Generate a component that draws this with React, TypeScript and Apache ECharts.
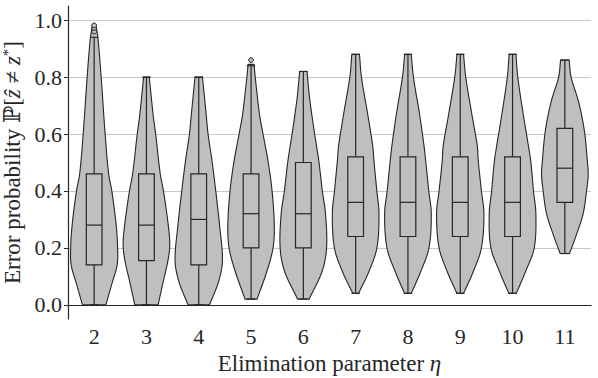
import React, { useEffect, useRef } from "react";
import * as echarts from "echarts";

// ---- data ----
const etaLabels = ["2", "3", "4", "5", "6", "7", "8", "9", "10", "11"];
const yTickValues = [0, 0.2, 0.4, 0.6, 0.8, 1.0];

// [lower whisker, Q1, median, Q3, upper whisker]
const boxStats = [
  [0.0, 0.14, 0.28, 0.46, 0.94],
  [0.0, 0.155, 0.28, 0.46, 0.8],
  [0.0, 0.14, 0.3, 0.46, 0.8],
  [0.02, 0.2, 0.32, 0.46, 0.84],
  [0.02, 0.2, 0.32, 0.5, 0.82],
  [0.04, 0.24, 0.36, 0.52, 0.88],
  [0.04, 0.24, 0.36, 0.52, 0.88],
  [0.04, 0.24, 0.36, 0.52, 0.88],
  [0.04, 0.24, 0.36, 0.52, 0.88],
  [0.18, 0.36, 0.48, 0.62, 0.86],
];

const outliers = [
  [0.96, 0.973, 0.982],
  [],
  [],
  [0.86],
  [],
  [],
  [],
  [],
  [],
  [],
];

// violin outlines: [value, half-width as a fraction of the category band]
const violin2 = [[0, 0.224], [0.077, 0.344], [0.14, 0.44], [0.2, 0.449], [0.28, 0.421], [0.4, 0.338], [0.46, 0.277], [0.6, 0.21], [0.8, 0.134], [0.94, 0.071], [0.985, 0.03]];
const violin3 = [[0, 0.224], [0.08, 0.319], [0.155, 0.411], [0.21, 0.446], [0.28, 0.417], [0.4, 0.325], [0.46, 0.264], [0.6, 0.176], [0.667, 0.128], [0.8, 0.054]];
const violin4 = [[0, 0.205], [0.08, 0.377], [0.155, 0.453], [0.28, 0.398], [0.4, 0.325], [0.505, 0.254], [0.6, 0.178], [0.667, 0.143], [0.8, 0.071]];
const violin5 = [[0.02, 0.115], [0.117, 0.302], [0.2, 0.421], [0.28, 0.444], [0.4, 0.402], [0.505, 0.325], [0.6, 0.229], [0.667, 0.163], [0.8, 0.08], [0.845, 0.057]];
const violin6 = [[0.02, 0.111], [0.117, 0.358], [0.2, 0.444], [0.32, 0.424], [0.4, 0.363], [0.505, 0.296], [0.6, 0.216], [0.725, 0.12], [0.82, 0.071]];
const violin7 = [[0.04, 0.054], [0.117, 0.254], [0.2, 0.407], [0.32, 0.446], [0.4, 0.405], [0.505, 0.35], [0.56, 0.325], [0.667, 0.233], [0.8, 0.111], [0.88, 0.073]];
const violin8 = [[0.04, 0.063], [0.117, 0.245], [0.2, 0.402], [0.32, 0.446], [0.4, 0.398], [0.505, 0.34], [0.56, 0.306], [0.667, 0.224], [0.8, 0.105], [0.88, 0.063]];
const violin9 = [[0.04, 0.063], [0.117, 0.25], [0.2, 0.405], [0.32, 0.453], [0.4, 0.405], [0.505, 0.345], [0.56, 0.325], [0.667, 0.224], [0.8, 0.105], [0.88, 0.063]];
const violin10 = [[0.04, 0.071], [0.117, 0.249], [0.2, 0.415], [0.32, 0.446], [0.4, 0.4], [0.505, 0.348], [0.56, 0.302], [0.667, 0.207], [0.8, 0.1], [0.88, 0.065]];
const violin11 = [[0.18, 0.09], [0.25, 0.229], [0.32, 0.35], [0.4, 0.415], [0.457, 0.446], [0.505, 0.43], [0.6, 0.382], [0.667, 0.319], [0.725, 0.245], [0.8, 0.119], [0.86, 0.082]];

const violins = [violin2, violin3, violin4, violin5, violin6, violin7, violin8, violin9, violin10, violin11];

// ---- styles ----
const FONT = "'Liberation Serif', 'DejaVu Serif', serif";
const TEXT = "#262626";
const FILL = "#bfbfbf";
const EDGE = "#262626";

// smooth half-width as a function of value (cubic Hermite through the read points)
function smoothProfile(prof: number[][], step: number): number[][] {
  const n = prof.length;
  const m: number[] = [];
  for (let i = 0; i < n; i++) {
    if (i === 0) m.push((prof[1][1] - prof[0][1]) / (prof[1][0] - prof[0][0]));
    else if (i === n - 1) m.push((prof[n - 1][1] - prof[n - 2][1]) / (prof[n - 1][0] - prof[n - 2][0]));
    else m.push((prof[i + 1][1] - prof[i - 1][1]) / (prof[i + 1][0] - prof[i - 1][0]));
  }
  const out: number[][] = [];
  for (let i = 0; i < n - 1; i++) {
    const [v0, w0] = prof[i];
    const [v1, w1] = prof[i + 1];
    const h = v1 - v0;
    const k = Math.max(2, Math.ceil(h / step));
    for (let s = 0; s < k; s++) {
      const t = s / k;
      const t2 = t * t, t3 = t2 * t;
      const w =
        (2 * t3 - 3 * t2 + 1) * w0 +
        (t3 - 2 * t2 + t) * h * m[i] +
        (-2 * t3 + 3 * t2) * w1 +
        (t3 - t2) * h * m[i + 1];
      out.push([v0 + t * h, Math.max(0, w)]);
    }
  }
  out.push(prof[n - 1]);
  return out;
}

function renderItem(params: any, api: any) {
  const idx = api.value(0);
  const band = api.size([1, 0])[0];
  const cx = api.coord([idx, 0])[0];
  const prof = smoothProfile(violins[idx], 0.01);
  const right = prof.map(([v, w]) => [cx + w * band, api.coord([idx, v])[1]]);
  const left = prof.map(([v, w]) => [cx - w * band, api.coord([idx, v])[1]]).reverse();
  const [lo, q1, med, q3, hi] = boxStats[idx];
  const y = (v: number) => api.coord([idx, v])[1];
  const bw = 0.3 * band;
  const cw = 0.16 * band;
  const lineStyle = { stroke: EDGE, lineWidth: 1.2 };
  const children: any[] = [
    {
      type: "polygon",
      shape: { points: right.concat(left) },
      style: { fill: FILL, stroke: EDGE, lineWidth: 1.1 },
    },
    { type: "line", shape: { x1: cx, y1: y(q3), x2: cx, y2: y(hi) }, style: lineStyle },
    { type: "line", shape: { x1: cx, y1: y(q1), x2: cx, y2: y(lo) }, style: lineStyle },
    { type: "line", shape: { x1: cx - cw / 2, y1: y(hi), x2: cx + cw / 2, y2: y(hi) }, style: lineStyle },
    { type: "line", shape: { x1: cx - cw / 2, y1: y(lo), x2: cx + cw / 2, y2: y(lo) }, style: lineStyle },
    {
      type: "rect",
      shape: { x: cx - bw / 2, y: y(q3), width: bw, height: y(q1) - y(q3) },
      style: { fill: FILL, stroke: EDGE, lineWidth: 1.2 },
    },
    { type: "line", shape: { x1: cx - bw / 2, y1: y(med), x2: cx + bw / 2, y2: y(med) }, style: lineStyle },
  ];
  outliers[idx].forEach((v) => {
    children.push({
      type: "circle",
      shape: { cx, cy: y(v), r: 2.4 },
      style: { fill: FILL, stroke: EDGE, lineWidth: 1 },
    });
  });
  return { type: "group", children };
}

export default function App() {
  const ref = useRef<HTMLDivElement>(null);
  useEffect(() => {
    if (!ref.current) return;
    const chart = echarts.init(ref.current, undefined, { renderer: "svg" });
    chart.setOption({
      animation: false,
      backgroundColor: "#ffffff",
      grid: { left: 68, right: 7, top: 6, bottom: 59, outerBoundsMode: "none" },
      xAxis: {
        type: "category",
        data: etaLabels,
        boundaryGap: true,
        axisLine: { lineStyle: { color: EDGE, width: 1.2 } },
        axisTick: { alignWithLabel: true, length: 4, lineStyle: { color: EDGE, width: 1 } },
        axisLabel: { fontFamily: FONT, fontSize: 22, color: TEXT, margin: 6 },
        splitLine: { show: false },
        name: "{t|Elimination parameter }{i|η}",
        nameLocation: "middle",
        nameGap: 31,
        nameTextStyle: {
          fontFamily: FONT,
          fontSize: 23,
          color: TEXT,
          rich: {
            t: { fontFamily: FONT, fontSize: 23, color: TEXT },
            i: { fontFamily: FONT, fontSize: 23, color: TEXT, fontStyle: "italic" },
          },
        },
      },
      yAxis: {
        type: "value",
        min: -0.05,
        max: 1.05,
        axisLine: { show: true, lineStyle: { color: EDGE, width: 1.2 } },
        axisTick: { show: true, length: 4, customValues: yTickValues, lineStyle: { color: EDGE, width: 1 } },
        axisLabel: {
          fontFamily: FONT,
          fontSize: 22,
          color: TEXT,
          margin: 6,
          customValues: yTickValues,
          formatter: (v: number) => v.toFixed(1),
        },
        splitLine: { show: true, lineStyle: { color: "#c8c8c8", width: 1.2 } },
        name: "{t|Error probability ℙ[}{i|ẑ}{t| ≠ }{i|z}{s|*}{t|]}",
        nameLocation: "middle",
        nameGap: 38,
        nameTextStyle: {
          fontFamily: FONT,
          fontSize: 23,
          color: TEXT,
          rich: {
            t: { fontFamily: FONT, fontSize: 23, color: TEXT },
            i: { fontFamily: FONT, fontSize: 23, color: TEXT, fontStyle: "italic" },
            s: { fontFamily: FONT, fontSize: 15, color: TEXT, verticalAlign: "top" },
          },
        },
      },
      series: [
        {
          type: "custom",
          renderItem,
          encode: { x: 0, y: 1 },
          data: etaLabels.map((_, i) => [i, boxStats[i][2]]),
          z: 3,
        },
      ],
    });
    return () => chart.dispose();
  }, []);
  return (
    <div
      ref={ref}
      style={{ position: "fixed", left: 0, top: 0, width: 598, height: 378, background: "#fff" }}
    />
  );
}
